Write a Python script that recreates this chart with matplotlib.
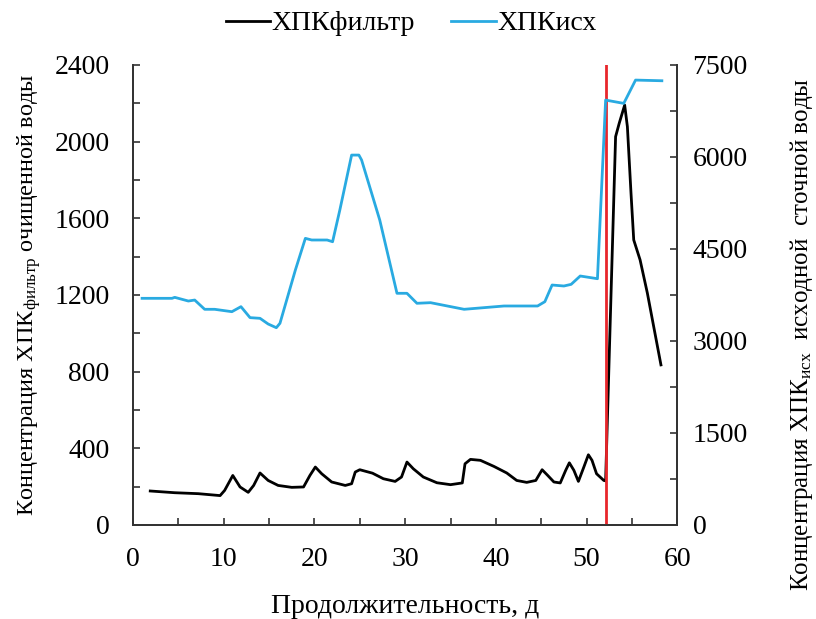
import matplotlib
matplotlib.use('Agg')
import matplotlib.pyplot as plt
from matplotlib.ticker import MultipleLocator

plt.rcParams['font.family'] = ['Liberation Serif', 'DejaVu Serif']
plt.rcParams['mathtext.fontset'] = 'custom'
plt.rcParams['mathtext.rm'] = 'Liberation Serif'
plt.rcParams['mathtext.it'] = 'Liberation Serif:italic'

# ХПК фильтр (left axis)
filt_x = [1.9, 4.6, 7.2, 9.6, 10.1, 11.0, 11.8, 12.7, 13.3, 14.0, 14.9, 16.0, 17.5,
          18.8, 19.5, 20.1, 20.8, 21.9, 23.4, 24.1, 24.5, 25.0, 26.4, 27.6, 28.9,
          29.6, 30.2, 30.9, 32.0, 33.5, 35.0, 36.3, 36.6, 37.2, 38.3, 39.8, 41.2,
          42.3, 43.4, 44.4, 45.1, 45.7, 46.4, 47.1, 47.7, 48.1, 48.6, 49.1, 49.7,
          50.2, 50.6, 51.1, 51.9, 52.1, 53.2, 53.6, 54.2, 54.5, 54.9, 55.2, 55.9,
          56.7, 58.2]
filt_y = [177, 168, 163, 153, 180, 258, 198, 170, 206, 271, 232, 206, 196,
          198, 258, 302, 267, 224, 206, 215, 276, 288, 270, 241, 227,
          250, 328, 293, 250, 220, 210, 219, 319, 342, 337, 305, 271,
          232, 222, 232, 288, 259, 224, 219, 285, 324, 285, 227, 302,
          366, 337, 267, 232, 230, 2026, 2096, 2191, 2078, 1730, 1487, 1383,
          1210, 835]

# ХПК исх (right axis)
src_x = [1.0, 4.3, 4.6, 6.1, 6.8, 7.9, 9.0, 10.9, 11.9, 12.9, 14.0, 14.9, 15.8,
         16.2, 17.9, 19.0, 19.7, 21.4, 22.0, 22.8, 24.1, 24.9, 25.2, 27.2, 29.1,
         29.8, 30.2, 31.3, 32.8, 36.5, 40.9, 44.6, 45.4, 46.2, 47.5, 48.3, 49.3,
         51.2, 52.1, 54.1, 55.4, 58.3]
src_y = [3695, 3695, 3711, 3651, 3667, 3516, 3516, 3477, 3559, 3380, 3369, 3276, 3216,
         3288, 4157, 4673, 4646, 4646, 4618, 5135, 6031, 6031, 5950, 4972, 3777,
         3777, 3777, 3614, 3624, 3516, 3570, 3570, 3640, 3912, 3896, 3923, 4059,
         4015, 6928, 6874, 7254, 7243]

cut_day = 52.1

fig = plt.figure(figsize=(8.16, 6.19), dpi=100)
ax = fig.add_axes([0.163, 0.152, 0.667, 0.743])
ax2 = ax.twinx()

l1, = ax.plot(filt_x, filt_y, color='black', lw=2.0, solid_joinstyle='round', label='ХПКфильтр')
l2, = ax2.plot(src_x, src_y, color='#29aae1', lw=2.0, solid_joinstyle='round', label='ХПКисх')
ax.axvline(cut_day, color='#e8262b', lw=2.0, zorder=5)

ax.set_xlim(0, 60)
ax.set_ylim(0, 2400)
ax2.set_ylim(0, 7500)
ax.xaxis.set_major_locator(MultipleLocator(10))
ax.xaxis.set_minor_locator(MultipleLocator(5))
ax.yaxis.set_major_locator(MultipleLocator(400))
ax.yaxis.set_minor_locator(MultipleLocator(200))
ax2.yaxis.set_major_locator(MultipleLocator(1500))
ax2.yaxis.set_minor_locator(MultipleLocator(750))

for a in (ax, ax2):
    a.tick_params(which='both', direction='in', length=5, width=1.2, color='#333333',
                  labelsize=20)
    a.spines['top'].set_visible(False)
    for s in ('left', 'right', 'bottom'):
        a.spines[s].set_color('#333333')
        a.spines[s].set_linewidth(1.3)
ax.tick_params(axis='y', pad=17)
ax.tick_params(axis='x', pad=16)
ax2.tick_params(axis='y', pad=11)

ax.set_xlabel('Продолжительность, д', fontsize=20, labelpad=16)
ax.set_ylabel('Концентрация ХПК$_{\\mathregular{фильтр}}$ очищенной воды', fontsize=17.5, labelpad=8)
ax2.set_ylabel('Концентрация ХПК$_{\\mathregular{исх}}$  исходной  сточной воды', fontsize=18)
ax2.yaxis.set_label_coords(1.203, 0.415)

fig.legend(handles=[l1, l2], loc='center', bbox_to_anchor=(0.504, 0.962), ncol=2,
           frameon=False, fontsize=20, handlelength=1.6, handletextpad=0.05, columnspacing=1.3)

fig.savefig('out.png', dpi=100)
